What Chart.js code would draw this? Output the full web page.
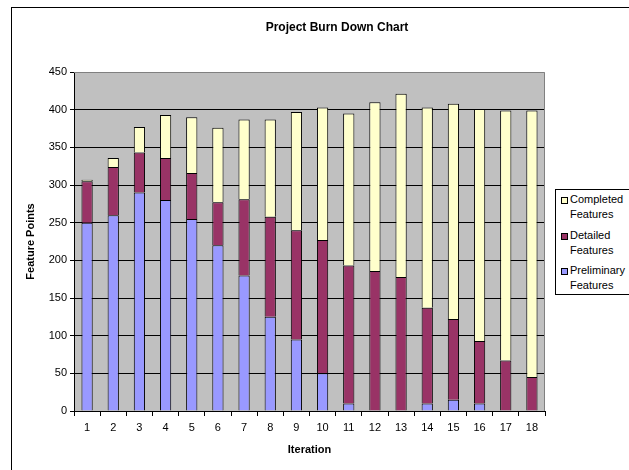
<!DOCTYPE html>
<html>
<head>
<meta charset="utf-8">
<script src="https://cdn.jsdelivr.net/npm/chart.js@4"></script>
<style>
  html, body { margin: 0; padding: 0; background: #fff; overflow: hidden; }
  body { width: 629px; height: 470px; position: relative; font-family: "Liberation Sans", Arial, sans-serif; }
  #frame { position: absolute; left: 11px; top: 7px; width: 700px; height: 500px; border: 1px solid #000; }
  #wrap { position: absolute; left: 0; top: 0; width: 629px; height: 470px; }
  #legend { position: absolute; left: 555px; top: 189px; width: 100px; height: 104px; border: 1px solid #000; background: #fff; font-size: 11px; color: #000; }
  .item { position: absolute; left: 0; }
  .item i { position: absolute; left: 5px; top: 5px; width: 5px; height: 5px; border: 1px solid #000; }
  .item span { position: absolute; left: 14px; top: 0; line-height: 15px; white-space: nowrap; }
</style>
</head>
<body>
<div id="frame"></div>
<div id="wrap"><canvas id="burnChart" width="629" height="470"></canvas></div>
<div id="legend"></div>
<script>
// iterations 1..18
const iterations = ["1","2","3","4","5","6","7","8","9","10","11","12","13","14","15","16","17","18"];
const preliminary = [250, 260, 290, 280, 255, 220, 180, 125, 95, 50, 10, 0, 0, 10, 15, 10, 0, 0];
const detailed    = [55, 64, 53, 56, 61, 57, 101, 133, 145, 177, 183, 186, 178, 127, 107, 83, 67, 45];
const completed   = [2, 12, 34, 57, 74, 99, 106, 129, 157, 176, 202, 224, 243, 266, 286, 308, 332, 354];
const yTicks = [0, 50, 100, 150, 200, 250, 300, 350, 400, 450];

const font = "'Liberation Sans', Arial, sans-serif";

// grey plot area + title
const plotBg = {
  id: "plotBg",
  beforeDraw(chart) {
    const { ctx, chartArea: a } = chart;
    ctx.save();
    ctx.fillStyle = "#C0C0C0";
    ctx.fillRect(a.left, a.top, a.right - a.left, a.bottom - a.top);
    ctx.restore();
  },
  afterDraw(chart) {
    const { ctx, chartArea: a } = chart;
    ctx.save();
    ctx.strokeStyle = "#808080";
    ctx.lineWidth = 1;
    ctx.beginPath();
    ctx.moveTo(a.left, a.top + 0.5);
    ctx.lineTo(a.right - 0.5, a.top + 0.5);
    ctx.lineTo(a.right - 0.5, a.bottom);
    ctx.stroke();
    ctx.fillStyle = "#000";
    ctx.font = "bold 12px " + font;
    ctx.textAlign = "center";
    ctx.textBaseline = "middle";
    ctx.fillText("Project Burn Down Chart", 337, 28);
    ctx.restore();
  }
};

const datasets = [
  { label: "Preliminary Features", data: preliminary, backgroundColor: "#9999FF" },
  { label: "Detailed Features", data: detailed, backgroundColor: "#993366" },
  { label: "Completed Features", data: completed, backgroundColor: "#FFFFCC" }
].map(d => Object.assign(d, {
  borderColor: "#000",
  borderWidth: { top: 1, left: 1, right: 1, bottom: 0 },
  borderSkipped: false,
  barPercentage: 0.43,
  categoryPercentage: 1
}));

new Chart(document.getElementById("burnChart"), {
  type: "bar",
  data: { labels: iterations, datasets },
  plugins: [plotBg],
  options: {
    responsive: false,
    animation: false,
    layout: { padding: { left: 0, right: 84, top: 72, bottom: 0 } },
    plugins: { legend: { display: false }, tooltip: { enabled: false } },
    scales: {
      x: {
        stacked: true,
        afterFit: s => { s.height = 59; },
        border: { color: "#000" },
        grid: { drawOnChartArea: false, drawTicks: true, tickLength: 5, color: "#000", offset: true },
        ticks: { color: "#000", font: { family: font, size: 11 }, padding: 5, maxRotation: 0 },
        title: { display: true, text: "Iteration", color: "#000", font: { family: font, size: 11, weight: "bold" }, padding: { top: 13, bottom: 13 } }
      },
      y: {
        stacked: true,
        min: 0,
        max: 450,
        afterFit: s => { s.width = 74; },
        afterBuildTicks: s => { s.ticks = yTicks.map(v => ({ value: v })); },
        border: { color: "#000" },
        grid: {
          color: c => (c.tick && c.tick.value === 450 ? "rgba(0,0,0,0)" : "#000"),
          tickColor: "#000",
          tickLength: 4
        },
        ticks: { color: "#000", font: { family: font, size: 11 }, padding: 3 },
        title: { display: true, text: "Feature Points", color: "#000", font: { family: font, size: 11, weight: "bold" }, padding: { top: 24, bottom: 24 } }
      }
    }
  }
});

// legend in Excel order (top of stack first)
const legend = document.getElementById("legend");
const rows = [
  ["Completed", "Features", "#FFFFCC", 2],
  ["Detailed", "Features", "#993366", 38],
  ["Preliminary", "Features", "#9999FF", 73]
];
rows.forEach(([a, b, col, top]) => {
  const it = document.createElement("div");
  it.className = "item";
  it.style.top = top + "px";
  it.innerHTML = `<i style="background:${col}"></i><span>${a}<br>${b}</span>`;
  legend.appendChild(it);
});
</script>
</body>
</html>
